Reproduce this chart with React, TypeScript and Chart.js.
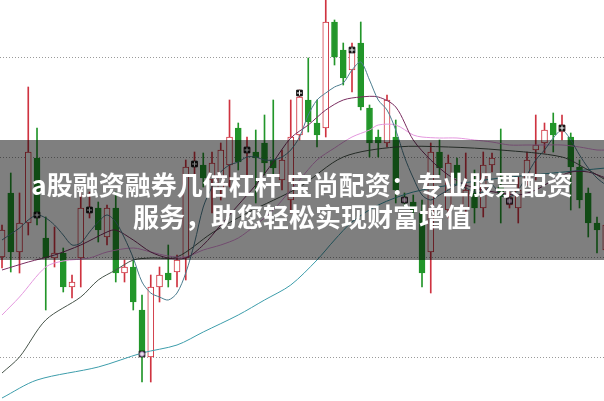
import React, { useEffect, useRef } from "react";
import { Chart, registerables } from "chart.js";

Chart.register(...registerables);

// session index of each candle (x axis, linear)
const sessions = [
  0, 1, 2, 3, 4, 5, 6, 7, 8, 9, 10, 11, 12, 13, 14, 15, 16, 17, 18, 19,
  20, 21, 22, 23, 24, 25, 26, 27, 28, 29, 30, 31, 32, 33, 34, 35, 36, 37, 38, 39,
  40, 41, 42, 43, 44, 45, 46, 47, 48, 49, 50, 51, 52, 53, 54, 55, 56, 57, 58, 59,
  60, 61, 62, 63, 64, 65, 66, 67, 68, 69,
];

const opens = [
  10.0, 10.64, 10.05, 10.34, 10.99, 10.19, 9.99, 10.04, 9.7, 9.99,
  10.47, 10.49, 10.2, 10.49, 9.84, 9.9, 9.47, 9.0, 9.7, 9.84,
  9.85, 9.99, 10.91, 10.92, 10.77, 10.67, 10.92, 11.29, 11.04, 11.05,
  11.14, 10.97, 10.77, 10.57, 11.22, 11.57, 11.34, 11.29, 12.35, 12.07,
  11.87, 12.14, 11.49, 11.2, 11.14, 11.2, 10.59, 10.55, 10.44, 10.05,
  11.05, 10.47, 10.92, 10.49, 10.64, 10.49, 10.92, 10.7, 10.52, 10.49,
  10.77, 11.07, 11.14, 11.34, 11.25, 11.2, 10.9, 10.64, 10.34, 10.07,
];
const highs = [
  10.32, 10.84, 10.64, 11.7, 11.29, 10.4, 10.3, 10.09, 9.82, 10.64,
  10.65, 10.55, 10.52, 10.65, 9.97, 9.97, 9.62, 9.82, 9.9, 10.12,
  10.02, 10.97, 11.05, 11.04, 11.05, 11.14, 11.57, 11.34, 11.2, 11.27,
  11.42, 11.57, 11.07, 11.57, 11.67, 11.99, 11.57, 12.62, 12.37, 12.14,
  12.14, 12.35, 11.52, 11.27, 11.62, 11.37, 10.64, 10.62, 10.57, 11.14,
  11.17, 11.02, 10.99, 11.04, 10.87, 11.05, 11.04, 11.28, 10.65, 10.8,
  11.05, 11.42, 11.34, 11.44, 11.42, 11.24, 10.97, 10.69, 10.4, 10.4,
];
const lows = [
  9.89, 9.85, 9.84, 10.22, 10.32, 9.47, 9.9, 9.65, 9.59, 9.7,
  10.39, 10.15, 10.12, 9.75, 9.75, 9.47, 8.75, 8.75, 9.55, 9.7,
  9.7, 9.77, 10.72, 10.7, 10.44, 10.57, 10.7, 10.87, 10.7, 10.54,
  10.82, 10.79, 10.67, 10.44, 11.17, 11.25, 11.1, 11.2, 11.92, 11.72,
  11.65, 11.47, 11.0, 11.0, 11.1, 10.54, 10.49, 10.39, 9.7, 9.64,
  10.82, 10.39, 10.72, 10.4, 10.34, 10.4, 10.85, 10.34, 10.49, 10.34,
  10.72, 10.77, 11.04, 11.05, 11.17, 10.47, 10.49, 10.2, 10.04, 9.97,
];
const closes = [
  10.27, 10.05, 10.34, 11.05, 10.4, 9.99, 10.04, 9.7, 9.75, 10.49,
  10.48, 10.27, 10.49, 9.84, 9.9, 9.55, 9.04, 9.7, 9.82, 9.77,
  9.97, 10.9, 10.94, 10.79, 10.94, 11.07, 11.2, 10.95, 11.09, 10.99,
  10.94, 10.89, 10.97, 11.2, 11.6, 11.35, 11.22, 12.35, 12.0, 11.79,
  12.05, 11.5, 11.14, 11.14, 11.57, 10.67, 10.54, 10.47, 9.84, 11.05,
  10.89, 10.94, 10.79, 10.67, 10.49, 10.92, 10.99, 10.6, 10.6, 10.67,
  10.97, 11.12, 11.27, 11.22, 11.32, 10.9, 10.57, 10.34, 10.27, 10.32,
];

// moving-average lines, read as [session, price]
const ma5 = [
  [0, 10.17], [1, 10.23], [2, 10.29], [3, 10.37], [4, 10.42], [5, 10.39], [6, 10.32], [7, 10.22],
  [8, 10.12], [9, 10.14], [10, 10.25], [11, 10.35], [12, 10.42], [13, 10.35], [14, 10.19], [15, 9.99],
  [16, 9.75], [17, 9.64], [18, 9.6], [19, 9.57], [20, 9.64], [21, 9.84], [22, 10.14], [23, 10.5],
  [24, 10.7], [25, 10.85], [26, 10.92], [27, 10.95], [28, 11.0], [29, 11.0], [30, 10.97], [31, 10.97],
  [32, 11.0], [33, 11.07], [34, 11.2], [35, 11.42], [36, 11.57], [37, 11.64], [38, 11.7], [39, 11.74],
  [40, 11.87], [41, 11.95], [42, 11.77], [43, 11.57], [44, 11.47], [45, 11.27], [46, 11.0], [47, 10.79],
  [48, 10.62], [49, 10.57], [50, 10.62], [51, 10.67], [52, 10.72], [53, 10.69], [54, 10.65], [55, 10.65],
  [56, 10.72], [57, 10.62], [58, 10.6], [59, 10.67], [60, 10.82], [61, 10.97], [62, 11.07], [63, 11.19],
  [64, 11.27], [65, 11.17], [66, 11.02], [67, 10.89], [68, 10.79], [69, 10.72],
];
const ma10 = [
  [0, 9.87], [3, 9.95], [6, 10.02], [9, 10.12], [12, 10.25], [13, 10.27], [15, 10.17], [17, 10.05],
  [19, 9.99], [21, 9.99], [23, 10.12], [25, 10.32], [27, 10.52], [29, 10.72], [31, 10.95], [33, 11.19],
  [35, 11.32], [37, 11.47], [39, 11.57], [41, 11.6], [43, 11.6], [45, 11.5], [47, 11.17], [49, 10.97],
  [51, 10.82], [53, 10.72], [55, 10.67], [57, 10.64], [59, 10.62], [61, 10.67], [63, 10.77], [65, 10.85],
  [67, 10.85], [69, 10.79],
];
const ma20 = [
  [0, 9.42], [2, 9.6], [5, 9.9], [7, 9.96], [10, 9.99], [12, 10.05], [15, 10.09], [17, 10.05],
  [19, 10.01], [21, 10.0], [23, 10.07], [25, 10.12], [27, 10.19], [29, 10.32], [31, 10.47], [33, 10.67],
  [34, 10.77], [36, 10.97], [38, 11.09], [40, 11.2], [42, 11.27], [43, 11.32], [45, 11.32], [47, 11.22],
  [48, 11.2], [50, 11.19], [52, 11.19], [54, 11.17], [56, 11.15], [58, 11.12], [60, 11.12], [62, 11.12],
  [64, 11.12], [66, 11.1], [68, 11.07], [69, 11.07],
];
const ma30 = [
  [0, 8.84], [2, 9.0], [5, 9.37], [9, 9.6], [11, 9.77], [13, 9.87], [15, 9.97], [17, 9.99],
  [20, 10.0], [24, 10.24], [28, 10.44], [34, 10.7], [39, 11.0], [45, 11.1], [51, 11.1], [57, 11.07],
  [64, 11.0], [67, 10.87], [69, 10.77],
];
const ma60 = [
  [0, 8.59], [4, 8.77], [11, 8.9], [16, 9.04], [20, 9.12], [23, 9.25], [27, 9.42], [30, 9.57],
  [33, 9.72], [36, 9.97], [38, 10.17], [40, 10.35], [43, 10.52], [47, 10.65], [52, 10.73], [57, 10.79],
  [63, 10.84], [69, 10.89],
];

// small square markers drawn by the charting software
const markerSessions = [4, 10, 16, 22, 28, 34, 40, 46, 58, 64];
const markerPrices = [10.42, 10.47, 9.03, 10.93, 11.07, 11.64, 12.07, 10.57, 10.56, 11.29];
const markerFills = ["#111", "#111", "#a07ab0", "#111", "#111", "#111", "#111", "#c98cc0", "#c98cc0", "#111"];

const gridLevels = [9, 10, 11, 12];

const RED = "#cf3340";
const GREEN = "#22962a";

const title1 = "a股融资融券几倍杠杆 宝尚配资：专业股票配资";
const title2 = "服务，助您轻松实现财富增值";

export default function App() {
  const canvasRef = useRef<HTMLCanvasElement | null>(null);

  useEffect(() => {
    const prevMargin = document.body.style.margin;
    document.body.style.margin = "0";
    const canvas = canvasRef.current;
    if (!canvas) return;
    const up = opens.map((o, i) => closes[i] >= o);
    const toPts = (arr: number[][]) => arr.map(([x, y]) => ({ x, y }));
    const chart = new Chart(canvas, {
      type: "bar",
      data: {
        labels: sessions,
        datasets: [
          {
            type: "line",
            label: "markers-cross",
            data: markerSessions.map((s, i) => ({ x: s, y: markerPrices[i] })),
            showLine: false,
            pointStyle: "cross",
            pointRadius: 2.5,
            pointBorderColor: "#ffffff",
            pointBorderWidth: 1,
            order: -1,
          } as any,
          {
            type: "line",
            label: "markers",
            data: markerSessions.map((s, i) => ({ x: s, y: markerPrices[i] })),
            showLine: false,
            pointStyle: "rect",
            pointRadius: 4,
            pointBackgroundColor: markerFills,
            pointBorderColor: "#111",
            pointBorderWidth: 1,
            order: 0,
          } as any,
          { type: "line", label: "MA5", data: toPts(ma5), borderColor: "#4c7d8f", borderWidth: 1, pointRadius: 0, tension: 0.3, order: 1 } as any,
          { type: "line", label: "MA10", data: toPts(ma10), borderColor: "#7a2d60", borderWidth: 1, pointRadius: 0, tension: 0.3, order: 1 } as any,
          { type: "line", label: "MA20", data: toPts(ma20), borderColor: "#e497de", borderWidth: 1, pointRadius: 0, tension: 0.3, order: 1 } as any,
          { type: "line", label: "MA30", data: toPts(ma30), borderColor: "#47544a", borderWidth: 1, pointRadius: 0, tension: 0.3, order: 1 } as any,
          { type: "line", label: "MA60", data: toPts(ma60), borderColor: "#3d9dab", borderWidth: 1, pointRadius: 0, tension: 0.3, order: 1 } as any,
          {
            type: "bar",
            label: "body",
            data: opens.map((o, i) => [o, closes[i]]),
            backgroundColor: up.map((u) => (u ? "#ffffff" : GREEN)),
            borderColor: up.map((u) => (u ? RED : GREEN)),
            borderWidth: 1,
            borderSkipped: false,
            barThickness: 6,
            grouped: false,
            order: 2,
          } as any,
          {
            type: "bar",
            label: "wick",
            data: lows.map((l, i) => [l, highs[i]]),
            backgroundColor: up.map((u) => (u ? RED : GREEN)),
            borderWidth: 0,
            barThickness: 1,
            grouped: false,
            order: 3,
          } as any,
        ],
      },
      options: {
        animation: false,
        responsive: true,
        maintainAspectRatio: false,
        events: [],
        layout: { padding: 0, autoPadding: false },
        plugins: { legend: { display: false }, tooltip: { enabled: false } },
        scales: {
          x: { type: "linear", min: -0.23, max: 68.8, display: false, offset: false },
          y: {
            type: "linear",
            min: 8.56,
            max: 12.57,
            display: true,
            afterBuildTicks: (scale: any) => {
              scale.ticks = gridLevels.map((v) => ({ value: v }));
            },
            ticks: { display: false },
            grid: { drawTicks: false, color: "#9a9a9a", lineWidth: 1 },
            border: { display: false, dash: [1, 2] },
          },
        },
      } as any,
    });
    return () => {
      chart.destroy();
      document.body.style.margin = prevMargin;
    };
  }, []);

  return (
    <div style={{ position: "fixed", left: 0, top: 0, width: 604, height: 401, background: "#fff", overflow: "hidden" }}>
      <canvas ref={canvasRef} />
      <div style={{ position: "absolute", left: 0, top: 140, width: 604, height: 120, background: "rgba(0,0,0,0.5)" }} />
      <div
        style={{
          position: "absolute",
          left: 0,
          top: 168,
          width: 604,
          textAlign: "center",
          color: "#fff",
          fontFamily: '"Noto Sans CJK SC", "Noto Sans", sans-serif',
          fontWeight: 700,
          fontSize: 26,
          lineHeight: "32px",
        }}
      >
        <div>{title1}</div>
        <div>{title2}</div>
      </div>
    </div>
  );
}
